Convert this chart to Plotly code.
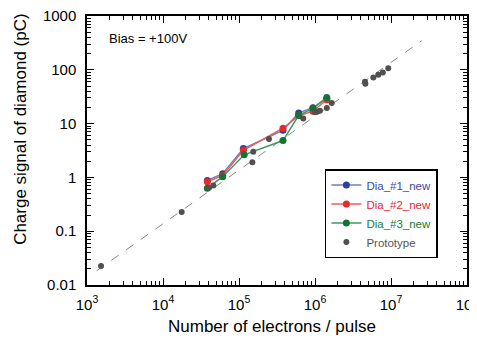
import plotly.graph_objects as go

# Data
x_dia = [3.83e4, 6.1e4, 1.14e5, 3.79e5, 6.1e5, 9.4e5, 1.43e6]
y_dia1 = [0.88, 1.17, 3.44, 7.5, 15.8, 19.8, 29.0]
y_dia2 = [0.83, 1.09, 3.2, 8.2, 14.0, 17.0, 27.8]
x_dia3 = [3.83e4, 6.1e4, 1.17e5, 3.79e5, 6.1e5, 9.4e5, 1.43e6]
y_dia3 = [0.63, 1.03, 2.63, 4.84, 14.3, 19.2, 30.7]

x_proto = [1.53e3, 1.76e4, 4.03e4, 4.59e4, 1.5e5, 1.54e5, 2.48e5, 7.0e5,
           1.0e6, 1.08e6, 1.16e6, 1.43e6, 1.66e6, 4.55e6, 4.6e6, 5.85e6,
           6.8e6, 7.8e6, 9.2e6]
y_proto = [0.0225, 0.228, 0.645, 0.71, 1.92, 2.99, 5.2, 12.4,
           16.2, 16.8, 17.4, 19.5, 24.2, 60, 55, 72,
           81, 89, 107]

x_fit = [1.34e3, 2.54e7]
y_fit = [0.0184, 348]

x_ticks = [1e3, 1e4, 1e5, 1e6, 1e7, 1e8]
x_ticklabels = ["10<sup>3</sup>", "10<sup>4</sup>", "10<sup>5</sup>",
                "10<sup>6</sup>", "10<sup>7</sup>", "10<sup>8</sup>"]
y_ticks = [0.01, 0.1, 1, 10, 100, 1000]
y_ticklabels = ["0.01", "0.1", "1", "10", "100", "1000"]

# minor ticks at 2..9 of each decade
x_minor = [m * 10 ** e for e in range(3, 8) for m in range(2, 10)]
y_minor = [m * 10.0 ** e for e in range(-2, 3) for m in range(2, 10)]

FONT = "Liberation Sans, Arial"

fig = go.Figure()

fig.add_trace(go.Scatter(x=x_fit, y=y_fit, mode="lines",
                         line=dict(color="#888888", width=1, dash="dash"),
                         showlegend=False, hoverinfo="skip"))

fig.add_trace(go.Scatter(x=x_dia, y=y_dia1, mode="lines+markers",
                         name="<span style='color:#3b4aa0'>Dia_#1_new</span>",
                         line=dict(color="#6f7fc4", width=1.5),
                         marker=dict(color="#2f3f9a", size=7)))
fig.add_trace(go.Scatter(x=x_dia, y=y_dia2, mode="lines+markers",
                         name="<span style='color:#e8282c'>Dia_#2_new</span>",
                         line=dict(color="#f05a5c", width=1.5),
                         marker=dict(color="#e8282c", size=7)))
fig.add_trace(go.Scatter(x=x_dia3, y=y_dia3, mode="lines+markers",
                         name="<span style='color:#1a7a3a'>Dia_#3_new</span>",
                         line=dict(color="#3f9a5f", width=1.5),
                         marker=dict(color="#127238", size=7)))
fig.add_trace(go.Scatter(x=x_proto, y=y_proto, mode="markers",
                         name="<span style='color:#555555'>Prototype</span>",
                         marker=dict(color="#505050", size=6)))

axis_common = dict(
    type="log", showline=True, linecolor="black", linewidth=1.5,
    mirror="ticks", ticks="inside", ticklen=7, tickcolor="black", tickwidth=1,
    showgrid=False, zeroline=False, automargin=False,
    ticklabeloverflow="allow",
    tickfont=dict(family=FONT, size=15, color="black"),
)

fig.update_xaxes(**axis_common, range=[3, 8], tickvals=x_ticks,
                 ticktext=x_ticklabels, ticklabelstandoff=5,
                 minor=dict(ticks="inside", ticklen=4, tickcolor="black",
                            tickmode="array", tickvals=x_minor, showgrid=False))
fig.update_yaxes(**axis_common, range=[-2, 3], tickvals=y_ticks,
                 ticktext=y_ticklabels, ticklabelstandoff=6,
                 minor=dict(ticks="inside", ticklen=4, tickcolor="black",
                            tickmode="array", tickvals=y_minor, showgrid=False))

fig.add_annotation(text="Charge signal of diamond (pC)", xref="paper", yref="paper",
                   x=-0.174, y=0.58, xanchor="center", yanchor="middle",
                   textangle=-90, showarrow=False,
                   font=dict(family=FONT, size=17, color="black"))
fig.add_annotation(text="Number of electrons / pulse", xref="paper", yref="paper",
                   x=0.488, y=-0.156, xanchor="center", yanchor="middle",
                   showarrow=False,
                   font=dict(family=FONT, size=17, color="black"))
fig.add_annotation(text="Bias = +100V", xref="paper", yref="paper",
                   x=0.052, y=0.918, xanchor="left", yanchor="middle",
                   showarrow=False,
                   font=dict(family=FONT, size=13, color="black"))

# page body has an 8px default margin; figure is sized so the plot lands where the reference has it
fig.update_layout(
    width=469, height=337,
    margin=dict(l=79, r=10, t=8, b=60),
    paper_bgcolor="white", plot_bgcolor="white",
    legend=dict(x=0.626, y=0.431, xanchor="left", yanchor="top",
                bordercolor="black", borderwidth=1.5, bgcolor="white",
                font=dict(family=FONT, size=11.5),
                tracegroupgap=0, itemwidth=30),
)

fig.write_html("out.html")
